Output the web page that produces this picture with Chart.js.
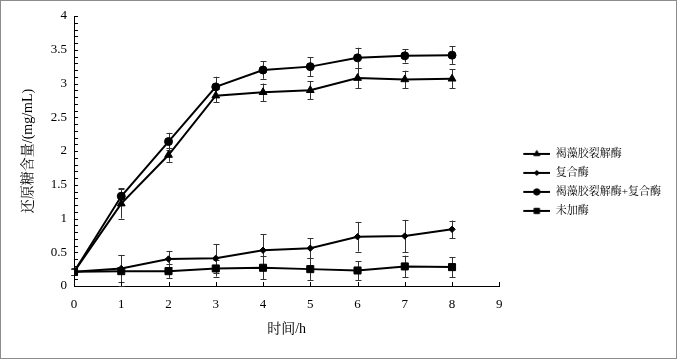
<!DOCTYPE html>
<html>
<head>
<meta charset="utf-8">
<script src="https://cdn.jsdelivr.net/npm/chart.js@4"></script>
<style>
  html, body { margin: 0; padding: 0; background: #fff; }
  .chart-container {
    position: relative;
    width: 677px;
    height: 359px;
    border: 1px solid #8c8c8c;
    box-sizing: border-box;
  }
</style>
</head>
<body>
<div class="chart-container"><canvas id="sugarChart"></canvas></div>
<script>
// hours sampled
const hours = [0, 1, 2, 3, 4, 5, 6, 7, 8];

// reducing sugar (mg/mL) per treatment, with error bars
const alginase = [0.21, 1.22, 1.94, 2.82, 2.87, 2.90, 3.08, 3.06, 3.07];
const alginaseErr = [0.04, 0.22, 0.10, 0.10, 0.13, 0.13, 0.15, 0.13, 0.14];
const compound = [0.21, 0.26, 0.40, 0.41, 0.53, 0.56, 0.73, 0.74, 0.84];
const compoundErr = [0.04, 0.20, 0.12, 0.21, 0.24, 0.15, 0.22, 0.24, 0.13];
const combined = [0.21, 1.33, 2.14, 2.95, 3.20, 3.25, 3.38, 3.41, 3.42];
const combinedErr = [0.04, 0.12, 0.13, 0.15, 0.13, 0.14, 0.15, 0.10, 0.13];
const noEnzyme = [0.21, 0.22, 0.22, 0.26, 0.27, 0.25, 0.23, 0.29, 0.28];
const noEnzymeErr = [0.05, 0.24, 0.10, 0.12, 0.17, 0.16, 0.14, 0.16, 0.15];

const seriesNames = ['褐藻胶裂解酶', '复合酶', '褐藻胶裂解酶+复合酶', '未加酶'];
const xTicks = [0, 1, 2, 3, 4, 5, 6, 7, 8, 9];

const FONT = "'Liberation Serif', 'Noto Serif CJK SC', 'Noto Sans CJK SC', serif";

const toPoints = (vals) => hours.map((h, i) => ({ x: h, y: vals[i] }));

function makeSeries(label, vals, errs, style, radius) {
    return {
        label: label,
        data: toPoints(vals),
        errors: errs,
        borderColor: '#000',
        backgroundColor: '#000',
        borderWidth: 2,
        pointStyle: style,
        pointRadius: radius,
        pointHoverRadius: radius,
        pointBorderWidth: 1,
        pointBackgroundColor: '#000',
        pointBorderColor: '#000',
        tension: 0
    };
}

// little legend icons: a line with the marker in the middle
function legendIcon(style, radius) {
    const c = document.createElement('canvas');
    c.width = 43;
    c.height = 10;
    const g = c.getContext('2d');
    g.strokeStyle = '#000';
    g.lineWidth = 2;
    g.beginPath();
    g.moveTo(16, 5);
    g.lineTo(43, 5);
    g.stroke();
    g.fillStyle = '#000';
    g.strokeStyle = '#000';
    g.lineWidth = 1;
    Chart.helpers.drawPoint(g, { pointStyle: style, radius: radius, borderWidth: 1 }, 29.5, 5);
    return c;
}

const errorBars = {
    id: 'errorBars',
    beforeDatasetsDraw(chart) {
        const ctx = chart.ctx;
        const xs = chart.scales.x, ys = chart.scales.y;
        ctx.save();
        ctx.strokeStyle = '#333';
        ctx.lineWidth = 1;
        chart.data.datasets.forEach((ds) => {
            ds.data.forEach((p, i) => {
                const e = ds.errors[i];
                const x = Math.round(xs.getPixelForValue(p.x)) + 0.5;
                const top = ys.getPixelForValue(p.y + e);
                const bot = ys.getPixelForValue(Math.max(0, p.y - e));
                ctx.beginPath();
                ctx.moveTo(x, top); ctx.lineTo(x, bot);
                ctx.moveTo(x - 3, Math.round(top) + 0.5); ctx.lineTo(x + 3, Math.round(top) + 0.5);
                ctx.moveTo(x - 3, Math.round(bot) + 0.5); ctx.lineTo(x + 3, Math.round(bot) + 0.5);
                ctx.stroke();
            });
        });
        ctx.restore();
    }
};

// inward tick marks (minor 0.1 on y)
const axisTicks = {
    id: 'axisTicks',
    afterDraw(chart) {
        const ctx = chart.ctx;
        const xs = chart.scales.x, ys = chart.scales.y;
        const area = chart.chartArea;
        ctx.save();
        ctx.strokeStyle = '#000';
        ctx.lineWidth = 1;
        ctx.beginPath();
        for (let k = 0; k <= 40; k++) {
            const y = Math.round(ys.getPixelForValue(k / 10)) + 0.5;
            ctx.moveTo(area.left, y);
            ctx.lineTo(area.left + 4, y);
        }
        xTicks.forEach((t) => {
            const x = Math.round(xs.getPixelForValue(t)) + 0.5;
            ctx.moveTo(x, area.bottom);
            ctx.lineTo(x, area.bottom - 4);
        });
        ctx.stroke();
        ctx.restore();
    }
};

const ctx = document.getElementById('sugarChart').getContext('2d');
const sugarChart = new Chart(ctx, {
    type: 'line',
    data: {
        datasets: [
            makeSeries(seriesNames[0], alginase, alginaseErr, 'triangle', 4.5),
            makeSeries(seriesNames[1], compound, compoundErr, 'rectRot', 3.2),
            makeSeries(seriesNames[2], combined, combinedErr, 'circle', 4),
            makeSeries(seriesNames[3], noEnzyme, noEnzymeErr, 'rect', 5)
        ]
    },
    options: {
        responsive: true,
        maintainAspectRatio: false,
        animation: false,
        layout: { padding: { top: 15, left: 0, right: 5, bottom: 0 } },
        scales: {
            x: {
                type: 'linear',
                min: 0,
                max: 9,
                afterFit: (scale) => { scale.height = 72; },
                afterBuildTicks: (scale) => { scale.ticks = xTicks.map((v) => ({ value: v })); },
                grid: { display: false, drawTicks: false },
                border: { display: true, color: '#000', width: 1 },
                ticks: {
                    padding: 11,
                    color: '#000',
                    font: { family: FONT, size: 13 }
                },
                title: {
                    display: true,
                    text: '时间/h',
                    color: '#000',
                    padding: { top: 10, bottom: 20 },
                    font: { family: FONT, size: 14 }
                }
            },
            y: {
                min: 0,
                max: 4,
                afterFit: (scale) => { scale.width = 73; },
                grid: { display: false, drawTicks: false },
                border: { display: true, color: '#000', width: 1 },
                ticks: {
                    stepSize: 0.5,
                    padding: 7,
                    color: '#000',
                    font: { family: FONT, size: 13 },
                    callback: (value) => String(Number(value.toFixed(1)))
                },
                title: {
                    display: true,
                    text: '还原糖含量/(mg/mL)',
                    color: '#000',
                    padding: { top: 19, bottom: 0 },
                    font: { family: FONT, size: 14 }
                }
            }
        },
        plugins: {
            tooltip: { enabled: false },
            legend: {
                position: 'right',
                align: 'start',
                maxWidth: 177,
                // empty title only used to push the entries down
                title: {
                    display: true,
                    text: ' ',
                    padding: { top: 0, bottom: 110 },
                    font: { family: FONT, size: 12 }
                },
                labels: {
                    usePointStyle: true,
                    pointStyleWidth: 43,
                    boxHeight: 10,
                    padding: 8,
                    color: '#000',
                    font: { family: FONT, size: 11 },
                    generateLabels: (chart) => {
                        const base = Chart.defaults.plugins.legend.labels.generateLabels(chart);
                        const icons = [
                            legendIcon('triangle', 3.5),
                            legendIcon('rectRot', 2.6),
                            legendIcon('circle', 3.2),
                            legendIcon('rect', 3.8)
                        ];
                        return base.map((item, i) => Object.assign(item, { pointStyle: icons[i] }));
                    }
                }
            }
        }
    },
    plugins: [errorBars, axisTicks]
});
</script>
</body>
</html>
